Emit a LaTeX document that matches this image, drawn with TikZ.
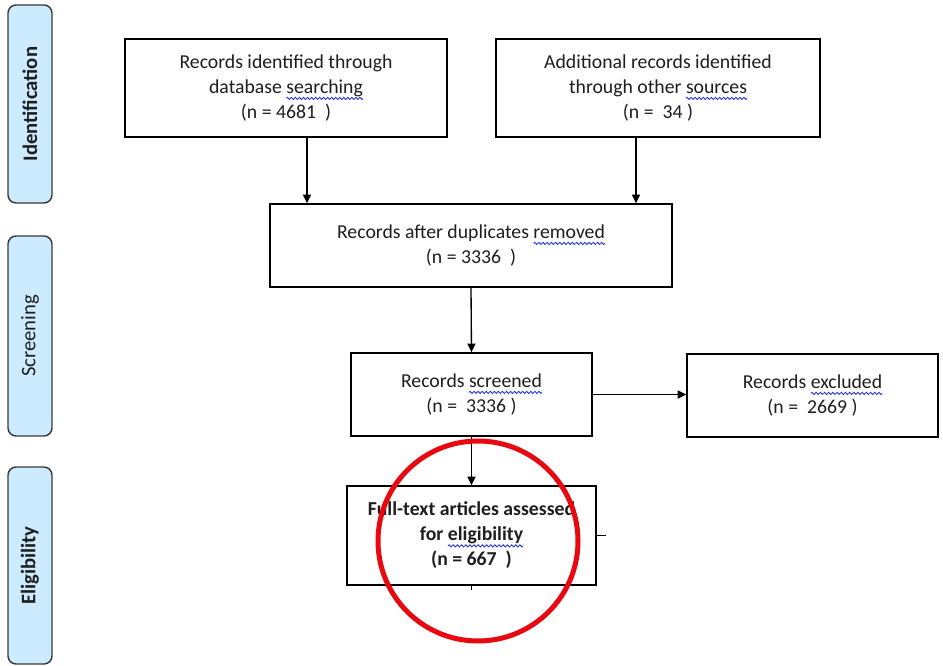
\documentclass[tikz,border=0pt]{standalone}
\usepackage{fontspec}
\setmainfont{Carlito}
\usetikzlibrary{arrows.meta}
\definecolor{sidefill}{HTML}{CCEBFF}
\definecolor{sidedraw}{HTML}{3A3A3A}
\definecolor{txt}{HTML}{1E1E1E}
\definecolor{ringred}{HTML}{E8080F}
\definecolor{spellblue}{HTML}{2030E0}
\newsavebox\wavebox
\newsavebox\wordbox
\AtBeginDocument{\sbox\wavebox{\begin{pgfpicture}%
\pgfpathrectangle{\pgfpoint{0pt}{-0.9pt}}{\pgfpoint{3pt}{1.8pt}}\pgfusepath{use as bounding box}%
\pgfsetlinewidth{0.65pt}\pgfsetstrokecolor{spellblue}%
\pgfpathmoveto{\pgfpointorigin}\pgfpathsine{\pgfpoint{0.75pt}{0.8pt}}\pgfpathcosine{\pgfpoint{0.75pt}{-0.8pt}}%
\pgfpathsine{\pgfpoint{0.75pt}{-0.8pt}}\pgfpathcosine{\pgfpoint{0.75pt}{0.8pt}}\pgfusepath{stroke}%
\end{pgfpicture}}}
\newcommand\spw[1]{\sbox\wordbox{#1}\leavevmode\rlap{\raisebox{-4.6pt}[0pt][0pt]{\hbox to \wd\wordbox{\xleaders\copy\wavebox\hfil}}}\usebox\wordbox}
\tikzset{
  box/.style={draw=black, line width=1pt, fill=white, align=center, text=txt,
    inner sep=0pt, font=\fontsize{14.8}{18.75}\selectfont},
  side/.style={draw=sidedraw, line width=1.1pt, fill=sidefill, rounded corners=6pt,
    minimum width=33pt, text=txt, inner sep=0pt, font=\fontsize{15.5}{16}\selectfont},
  arr/.style={line width=1pt, -{Triangle[width=6pt,length=6.5pt]}},
  ring/.style={draw=ringred, circle, line width=3.75pt, inner sep=0pt, minimum size=150pt}
}
\begin{document}
\begin{tikzpicture}[x=0.75pt,y=-0.75pt]
\useasboundingbox (0,0) rectangle (943,666);
% side bars
\node[side, minimum height=148.5pt] (sid) at (30,104) {\rotatebox{90}{\bfseries Identification}};
\node[side, minimum height=150pt] (sscr) at (30,336) {\rotatebox{90}{Screening}};
\node[side, minimum height=147.75pt] (seli) at (30,565.5) {\rotatebox{90}{\bfseries Eligibility}};
% boxes
\node[box, minimum width=241.5pt, minimum height=73.5pt] (db) at (286,88)
  {Records identified through\\database \spw{searching}\\(n = 4681~~)};
\node[box, minimum width=243pt, minimum height=73.5pt] (other) at (658,88)
  {Additional records identified\\through other \spw{sources}\\(n =~~34 )};
\node[box, minimum width=301.5pt, minimum height=62.25pt] (dup) at (471,245.5)
  {Records after duplicates \spw{removed}\\(n = 3336~~)};
\node[box, minimum width=180.75pt, minimum height=62.25pt] (scr) at (471.5,394.5)
  {Records \spw{screened}\\(n =~~3336 )};
\node[box, minimum width=188.25pt, minimum height=62.25pt] (excl) at (812.5,395.5)
  {Records \spw{excluded}\\(n =~~2669 )};
\node[box, minimum width=186.75pt, minimum height=74.25pt] (full) at (471.5,535.5)
  {\bfseries Full-text articles assessed\\\bfseries for \spw{eligibility}\\\bfseries (n = 667~~)};
% connectors
\coordinate (a1) at (307,0);
\coordinate (a2) at (636,0);
\draw[arr] (a1 |- db.south) -- (a1 |- dup.north);
\draw[arr] (a2 |- other.south) -- (a2 |- dup.north);
\draw[arr] (dup.south) -- (scr.north);
\draw[arr] (scr.south) -- (full.north);
\draw[arr] (scr.east) -- (scr.east -| excl.west);
\draw[line width=1pt] (full.east) -- ++(9,0);
\draw[line width=1pt] (full.south) -- ++(0,4);
% red ring
\node[ring] (mark) at (478,541) {};
\end{tikzpicture}
\end{document}
